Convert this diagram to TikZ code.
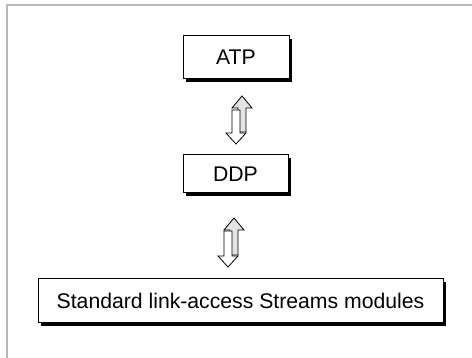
\documentclass[tikz,border=0pt]{standalone}
\usepackage{fontspec}
\setmainfont{Liberation Sans}
\usepackage{tikz}
\usetikzlibrary{shadows}

\definecolor{framegray}{RGB}{185,185,185}
\definecolor{arrowgray}{RGB}{228,228,228}

\tikzset{
    layer/.style = {draw, line width=1pt, fill=white, inner sep=0pt,
        font=\fontsize{21.2}{25}\selectfont,
        drop shadow={shadow xshift=3pt, shadow yshift=-3pt, fill=black, opacity=1}},
    uparr/.style = {draw, line width=0.8pt, fill=arrowgray},
    downarr/.style = {draw, line width=0.8pt, fill=white}
}

% block arrow up: centre x, tip y, bottom y
\newcommand{\blockup}[3]{%
    \filldraw[uparr] (#1-4,#3) -- (#1-4,#2+12) -- (#1-10,#2+12) -- (#1,#2)
        -- (#1+10,#2+12) -- (#1+4,#2+12) -- (#1+4,#3) -- cycle;}
% block arrow down: centre x, top y, tip y
\newcommand{\blockdown}[3]{%
    \filldraw[downarr] (#1-4,#2) -- (#1-4,#3-11) -- (#1-10,#3-11) -- (#1,#3)
        -- (#1+10,#3-11) -- (#1+4,#3-11) -- (#1+4,#2) -- cycle;}

\begin{document}
\begin{tikzpicture}[x=1pt, y=-1pt]
    \useasboundingbox (0,0) rectangle (472,358);
    \draw [framegray, line width=1.5pt] (7,358) -- (7,5) -- (472,5);

    \node (atp) at (236, 57.5) [layer, minimum width=106pt, minimum height=43pt] {ATP};
    \node (ddp) at (235.5, 174) [layer, minimum width=105pt, minimum height=38pt] {DDP};
    \node (streams) at (240.5, 301) [layer, minimum width=405pt, minimum height=44pt] {Standard link-access Streams modules};

    \blockup{242}{96}{132}
    \blockdown{236}{110}{144}
    \blockup{234}{218}{255}
    \blockdown{228}{231}{267}
\end{tikzpicture}
\end{document}
